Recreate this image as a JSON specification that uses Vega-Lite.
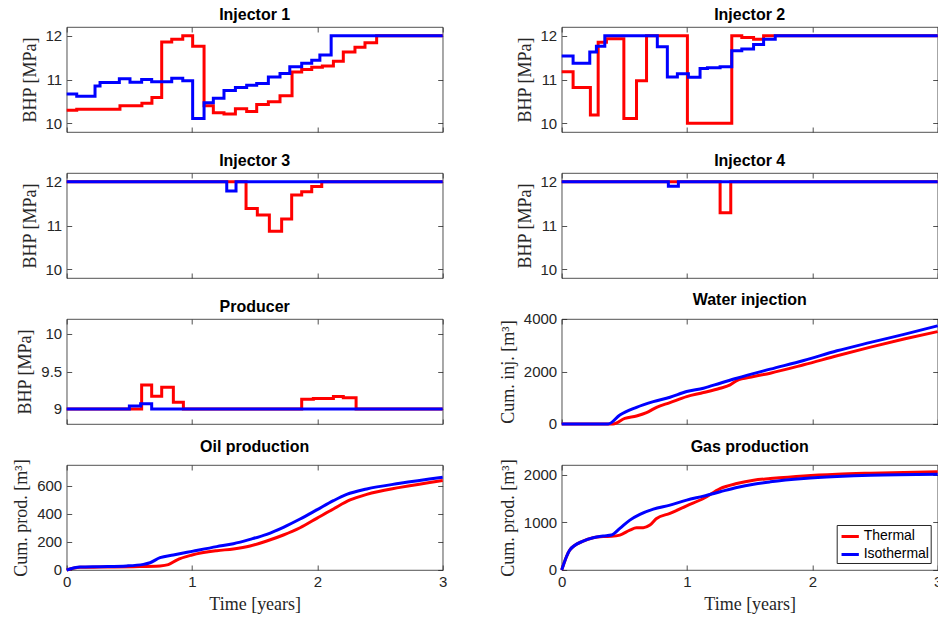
{
"$schema": "https://vega.github.io/schema/vega-lite/v6.json",
"padding": {"left": 11.7, "top": 6, "right": 0, "bottom": 0},
"bounds": "flush",
"columns": 2,
"spacing": {"row": 41, "column": 119},
"resolve": {"scale": {"color": "independent"}, "legend": {"color": "independent"}},
"datasets": {
"d": [
{"p":"inj1","s":"Thermal","t":0,"v":10.30},{"p":"inj1","s":"Thermal","t":0.08,"v":10.32},{"p":"inj1","s":"Thermal","t":0.425,"v":10.40},{"p":"inj1","s":"Thermal","t":0.60,"v":10.46},{"p":"inj1","s":"Thermal","t":0.68,"v":10.59},{"p":"inj1","s":"Thermal","t":0.758,"v":11.86},{"p":"inj1","s":"Thermal","t":0.838,"v":11.92},{"p":"inj1","s":"Thermal","t":0.926,"v":12.0},{"p":"inj1","s":"Thermal","t":1.005,"v":11.76},{"p":"inj1","s":"Thermal","t":1.096,"v":10.40},{"p":"inj1","s":"Thermal","t":1.17,"v":10.24},{"p":"inj1","s":"Thermal","t":1.255,"v":10.21},{"p":"inj1","s":"Thermal","t":1.346,"v":10.33},{"p":"inj1","s":"Thermal","t":1.436,"v":10.27},{"p":"inj1","s":"Thermal","t":1.516,"v":10.43},{"p":"inj1","s":"Thermal","t":1.609,"v":10.49},{"p":"inj1","s":"Thermal","t":1.702,"v":10.63},{"p":"inj1","s":"Thermal","t":1.798,"v":11.17},{"p":"inj1","s":"Thermal","t":1.875,"v":11.23},{"p":"inj1","s":"Thermal","t":1.955,"v":11.28},{"p":"inj1","s":"Thermal","t":2.04,"v":11.31},{"p":"inj1","s":"Thermal","t":2.128,"v":11.42},{"p":"inj1","s":"Thermal","t":2.207,"v":11.63},{"p":"inj1","s":"Thermal","t":2.30,"v":11.74},{"p":"inj1","s":"Thermal","t":2.38,"v":11.84},{"p":"inj1","s":"Thermal","t":2.473,"v":12.0},{"p":"inj1","s":"Thermal","t":3,"v":12.0},
{"p":"inj1","s":"Isothermal","t":0,"v":10.67},{"p":"inj1","s":"Isothermal","t":0.08,"v":10.62},{"p":"inj1","s":"Isothermal","t":0.226,"v":10.85},{"p":"inj1","s":"Isothermal","t":0.266,"v":10.93},{"p":"inj1","s":"Isothermal","t":0.42,"v":11.02},{"p":"inj1","s":"Isothermal","t":0.505,"v":10.94},{"p":"inj1","s":"Isothermal","t":0.598,"v":11.0},{"p":"inj1","s":"Isothermal","t":0.678,"v":10.95},{"p":"inj1","s":"Isothermal","t":0.838,"v":11.03},{"p":"inj1","s":"Isothermal","t":0.926,"v":10.97},{"p":"inj1","s":"Isothermal","t":1.005,"v":10.11},{"p":"inj1","s":"Isothermal","t":1.096,"v":10.47},{"p":"inj1","s":"Isothermal","t":1.17,"v":10.57},{"p":"inj1","s":"Isothermal","t":1.255,"v":10.75},{"p":"inj1","s":"Isothermal","t":1.346,"v":10.82},{"p":"inj1","s":"Isothermal","t":1.436,"v":10.87},{"p":"inj1","s":"Isothermal","t":1.516,"v":10.91},{"p":"inj1","s":"Isothermal","t":1.609,"v":11.06},{"p":"inj1","s":"Isothermal","t":1.702,"v":11.14},{"p":"inj1","s":"Isothermal","t":1.78,"v":11.29},{"p":"inj1","s":"Isothermal","t":1.875,"v":11.37},{"p":"inj1","s":"Isothermal","t":1.955,"v":11.44},{"p":"inj1","s":"Isothermal","t":2.02,"v":11.56},{"p":"inj1","s":"Isothermal","t":2.11,"v":12.0},{"p":"inj1","s":"Isothermal","t":3,"v":12.0},
{"p":"inj2","s":"Thermal","t":0,"v":11.18},{"p":"inj2","s":"Thermal","t":0.091,"v":10.82},{"p":"inj2","s":"Thermal","t":0.229,"v":10.19},{"p":"inj2","s":"Thermal","t":0.291,"v":11.85},{"p":"inj2","s":"Thermal","t":0.357,"v":11.93},{"p":"inj2","s":"Thermal","t":0.496,"v":10.11},{"p":"inj2","s":"Thermal","t":0.597,"v":10.97},{"p":"inj2","s":"Thermal","t":0.677,"v":12.0},{"p":"inj2","s":"Thermal","t":1.003,"v":10.0},{"p":"inj2","s":"Thermal","t":1.357,"v":12.0},{"p":"inj2","s":"Thermal","t":1.437,"v":11.96},{"p":"inj2","s":"Thermal","t":1.531,"v":11.92},{"p":"inj2","s":"Thermal","t":1.611,"v":12.0},{"p":"inj2","s":"Thermal","t":3,"v":12.0},
{"p":"inj2","s":"Isothermal","t":0,"v":11.54},{"p":"inj2","s":"Isothermal","t":0.091,"v":11.37},{"p":"inj2","s":"Isothermal","t":0.224,"v":11.63},{"p":"inj2","s":"Isothermal","t":0.277,"v":11.76},{"p":"inj2","s":"Isothermal","t":0.344,"v":12.0},{"p":"inj2","s":"Isothermal","t":0.763,"v":11.75},{"p":"inj2","s":"Isothermal","t":0.843,"v":11.06},{"p":"inj2","s":"Isothermal","t":0.923,"v":11.13},{"p":"inj2","s":"Isothermal","t":1.011,"v":11.05},{"p":"inj2","s":"Isothermal","t":1.104,"v":11.25},{"p":"inj2","s":"Isothermal","t":1.163,"v":11.27},{"p":"inj2","s":"Isothermal","t":1.264,"v":11.29},{"p":"inj2","s":"Isothermal","t":1.357,"v":11.66},{"p":"inj2","s":"Isothermal","t":1.437,"v":11.70},{"p":"inj2","s":"Isothermal","t":1.531,"v":11.80},{"p":"inj2","s":"Isothermal","t":1.611,"v":11.92},{"p":"inj2","s":"Isothermal","t":1.704,"v":12.0},{"p":"inj2","s":"Isothermal","t":3,"v":12.0},
{"p":"inj3","s":"Thermal","t":0,"v":12.0},{"p":"inj3","s":"Thermal","t":1.431,"v":11.39},{"p":"inj3","s":"Thermal","t":1.521,"v":11.24},{"p":"inj3","s":"Thermal","t":1.617,"v":10.87},{"p":"inj3","s":"Thermal","t":1.715,"v":11.15},{"p":"inj3","s":"Thermal","t":1.795,"v":11.70},{"p":"inj3","s":"Thermal","t":1.875,"v":11.77},{"p":"inj3","s":"Thermal","t":1.955,"v":11.89},{"p":"inj3","s":"Thermal","t":2.035,"v":12.0},{"p":"inj3","s":"Thermal","t":3,"v":12.0},
{"p":"inj3","s":"Isothermal","t":0,"v":12.0},{"p":"inj3","s":"Isothermal","t":1.277,"v":11.79},{"p":"inj3","s":"Isothermal","t":1.351,"v":12.0},{"p":"inj3","s":"Isothermal","t":3,"v":12.0},
{"p":"inj4","s":"Thermal","t":0,"v":12.0},{"p":"inj4","s":"Thermal","t":1.264,"v":11.29},{"p":"inj4","s":"Thermal","t":1.349,"v":12.0},{"p":"inj4","s":"Thermal","t":3,"v":12.0},
{"p":"inj4","s":"Isothermal","t":0,"v":12.0},{"p":"inj4","s":"Isothermal","t":0.851,"v":11.90},{"p":"inj4","s":"Isothermal","t":0.931,"v":12.0},{"p":"inj4","s":"Isothermal","t":3,"v":12.0},
{"p":"prod","s":"Thermal","t":0,"v":9.0},{"p":"prod","s":"Thermal","t":0.598,"v":9.32},{"p":"prod","s":"Thermal","t":0.678,"v":9.17},{"p":"prod","s":"Thermal","t":0.758,"v":9.29},{"p":"prod","s":"Thermal","t":0.851,"v":9.09},{"p":"prod","s":"Thermal","t":0.931,"v":9.0},{"p":"prod","s":"Thermal","t":1.875,"v":9.13},{"p":"prod","s":"Thermal","t":1.968,"v":9.14},{"p":"prod","s":"Thermal","t":2.128,"v":9.165},{"p":"prod","s":"Thermal","t":2.207,"v":9.15},{"p":"prod","s":"Thermal","t":2.309,"v":9.0},{"p":"prod","s":"Thermal","t":3,"v":9.0},
{"p":"prod","s":"Isothermal","t":0,"v":9.0},{"p":"prod","s":"Isothermal","t":0.5,"v":9.04},{"p":"prod","s":"Isothermal","t":0.59,"v":9.07},{"p":"prod","s":"Isothermal","t":0.678,"v":9.0},{"p":"prod","s":"Isothermal","t":3,"v":9.0},
{"p":"water","s":"Thermal","t":0,"v":0},{"p":"water","s":"Thermal","t":0.41,"v":0},{"p":"water","s":"Thermal","t":0.504,"v":217},{"p":"water","s":"Thermal","t":0.597,"v":306},{"p":"water","s":"Thermal","t":0.677,"v":433},{"p":"water","s":"Thermal","t":0.757,"v":637},{"p":"water","s":"Thermal","t":0.864,"v":815},{"p":"water","s":"Thermal","t":0.997,"v":1045},{"p":"water","s":"Thermal","t":1.131,"v":1197},{"p":"water","s":"Thermal","t":1.264,"v":1363},{"p":"water","s":"Thermal","t":1.344,"v":1490},{"p":"water","s":"Thermal","t":1.397,"v":1656},{"p":"water","s":"Thermal","t":1.531,"v":1809},{"p":"water","s":"Thermal","t":1.664,"v":1936},{"p":"water","s":"Thermal","t":1.931,"v":2255},{"p":"water","s":"Thermal","t":2.197,"v":2599},{"p":"water","s":"Thermal","t":2.464,"v":2930},{"p":"water","s":"Thermal","t":2.731,"v":3236},{"p":"water","s":"Thermal","t":3,"v":3520},
{"p":"water","s":"Isothermal","t":0,"v":0},{"p":"water","s":"Isothermal","t":0.371,"v":0},{"p":"water","s":"Isothermal","t":0.464,"v":344},{"p":"water","s":"Isothermal","t":0.597,"v":637},{"p":"water","s":"Isothermal","t":0.731,"v":853},{"p":"water","s":"Isothermal","t":0.864,"v":1019},{"p":"water","s":"Isothermal","t":0.997,"v":1236},{"p":"water","s":"Isothermal","t":1.131,"v":1363},{"p":"water","s":"Isothermal","t":1.264,"v":1554},{"p":"water","s":"Isothermal","t":1.397,"v":1745},{"p":"water","s":"Isothermal","t":1.664,"v":2089},{"p":"water","s":"Isothermal","t":1.931,"v":2420},{"p":"water","s":"Isothermal","t":2.197,"v":2790},{"p":"water","s":"Isothermal","t":2.464,"v":3108},{"p":"water","s":"Isothermal","t":2.731,"v":3414},{"p":"water","s":"Isothermal","t":3,"v":3740},
{"p":"oil","s":"Thermal","t":0,"v":0},{"p":"oil","s":"Thermal","t":0.106,"v":19},{"p":"oil","s":"Thermal","t":0.266,"v":21},{"p":"oil","s":"Thermal","t":0.532,"v":24},{"p":"oil","s":"Thermal","t":0.745,"v":29},{"p":"oil","s":"Thermal","t":0.811,"v":38},{"p":"oil","s":"Thermal","t":0.878,"v":71},{"p":"oil","s":"Thermal","t":1.0,"v":107},{"p":"oil","s":"Thermal","t":1.197,"v":138},{"p":"oil","s":"Thermal","t":1.33,"v":150},{"p":"oil","s":"Thermal","t":1.463,"v":171},{"p":"oil","s":"Thermal","t":1.596,"v":207},{"p":"oil","s":"Thermal","t":1.729,"v":250},{"p":"oil","s":"Thermal","t":1.862,"v":302},{"p":"oil","s":"Thermal","t":1.995,"v":369},{"p":"oil","s":"Thermal","t":2.128,"v":436},{"p":"oil","s":"Thermal","t":2.261,"v":500},{"p":"oil","s":"Thermal","t":2.394,"v":540},{"p":"oil","s":"Thermal","t":2.66,"v":590},{"p":"oil","s":"Thermal","t":3,"v":640},
{"p":"oil","s":"Isothermal","t":0,"v":0},{"p":"oil","s":"Isothermal","t":0.106,"v":21},{"p":"oil","s":"Isothermal","t":0.266,"v":24},{"p":"oil","s":"Isothermal","t":0.479,"v":29},{"p":"oil","s":"Isothermal","t":0.612,"v":40},{"p":"oil","s":"Isothermal","t":0.665,"v":52},{"p":"oil","s":"Isothermal","t":0.745,"v":88},{"p":"oil","s":"Isothermal","t":0.851,"v":107},{"p":"oil","s":"Isothermal","t":1.0,"v":133},{"p":"oil","s":"Isothermal","t":1.197,"v":167},{"p":"oil","s":"Isothermal","t":1.33,"v":188},{"p":"oil","s":"Isothermal","t":1.463,"v":219},{"p":"oil","s":"Isothermal","t":1.596,"v":255},{"p":"oil","s":"Isothermal","t":1.729,"v":305},{"p":"oil","s":"Isothermal","t":1.862,"v":364},{"p":"oil","s":"Isothermal","t":1.995,"v":429},{"p":"oil","s":"Isothermal","t":2.128,"v":495},{"p":"oil","s":"Isothermal","t":2.234,"v":540},{"p":"oil","s":"Isothermal","t":2.394,"v":579},{"p":"oil","s":"Isothermal","t":2.66,"v":619},{"p":"oil","s":"Isothermal","t":3,"v":662},
{"p":"gas","s":"Thermal","t":0,"v":0},{"p":"gas","s":"Thermal","t":0.064,"v":418},{"p":"gas","s":"Thermal","t":0.171,"v":606},{"p":"gas","s":"Thermal","t":0.251,"v":676},{"p":"gas","s":"Thermal","t":0.331,"v":700},{"p":"gas","s":"Thermal","t":0.397,"v":705},{"p":"gas","s":"Thermal","t":0.464,"v":732},{"p":"gas","s":"Thermal","t":0.544,"v":836},{"p":"gas","s":"Thermal","t":0.597,"v":885},{"p":"gas","s":"Thermal","t":0.651,"v":885},{"p":"gas","s":"Thermal","t":0.704,"v":941},{"p":"gas","s":"Thermal","t":0.757,"v":1080},{"p":"gas","s":"Thermal","t":0.864,"v":1185},{"p":"gas","s":"Thermal","t":0.997,"v":1345},{"p":"gas","s":"Thermal","t":1.131,"v":1498},{"p":"gas","s":"Thermal","t":1.264,"v":1707},{"p":"gas","s":"Thermal","t":1.397,"v":1812},{"p":"gas","s":"Thermal","t":1.531,"v":1882},{"p":"gas","s":"Thermal","t":1.664,"v":1916},{"p":"gas","s":"Thermal","t":1.931,"v":1972},{"p":"gas","s":"Thermal","t":2.197,"v":2007},{"p":"gas","s":"Thermal","t":2.464,"v":2028},{"p":"gas","s":"Thermal","t":3,"v":2056},
{"p":"gas","s":"Isothermal","t":0,"v":0},{"p":"gas","s":"Isothermal","t":0.064,"v":418},{"p":"gas","s":"Isothermal","t":0.171,"v":606},{"p":"gas","s":"Isothermal","t":0.251,"v":676},{"p":"gas","s":"Isothermal","t":0.331,"v":711},{"p":"gas","s":"Isothermal","t":0.397,"v":732},{"p":"gas","s":"Isothermal","t":0.464,"v":871},{"p":"gas","s":"Isothermal","t":0.544,"v":1045},{"p":"gas","s":"Isothermal","t":0.624,"v":1164},{"p":"gas","s":"Isothermal","t":0.731,"v":1275},{"p":"gas","s":"Isothermal","t":0.864,"v":1359},{"p":"gas","s":"Isothermal","t":0.997,"v":1463},{"p":"gas","s":"Isothermal","t":1.131,"v":1547},{"p":"gas","s":"Isothermal","t":1.264,"v":1638},{"p":"gas","s":"Isothermal","t":1.397,"v":1728},{"p":"gas","s":"Isothermal","t":1.531,"v":1798},{"p":"gas","s":"Isothermal","t":1.664,"v":1847},{"p":"gas","s":"Isothermal","t":1.931,"v":1916},{"p":"gas","s":"Isothermal","t":2.197,"v":1958},{"p":"gas","s":"Isothermal","t":2.464,"v":1986},{"p":"gas","s":"Isothermal","t":3,"v":2007}
]
},
"data": {"name": "d"},
"concat": [
{"title": "Injector 1", "width": 376, "height": 105,
 "transform": [{"filter": "datum.p === 'inj1'"}],
 "layer": [
  {"transform": [{"filter": "datum.s === 'Thermal'"}], "mark": {"type": "line", "interpolate": "step-after"},
   "encoding": {"x": {"field": "t", "type": "quantitative", "scale": {"domain": [0, 3], "nice": false, "zero": false}, "axis": {"values": [0, 1, 2, 3], "labels": false, "title": null}},
    "y": {"field": "v", "type": "quantitative", "scale": {"domain": [9.8, 12.2], "nice": false, "zero": false}, "axis": {"values": [10, 11, 12], "format": "~g", "title": "BHP [MPa]"}},
    "color": {"field": "s", "type": "nominal", "scale": {"domain": ["Thermal", "Isothermal"], "range": ["#ff0000", "#0000ff"]}, "legend": null}}},
  {"transform": [{"filter": "datum.s === 'Isothermal'"}], "mark": {"type": "line", "interpolate": "step-after"},
   "encoding": {"x": {"field": "t", "type": "quantitative", "scale": {"domain": [0, 3], "nice": false, "zero": false}, "axis": null},
    "y": {"field": "v", "type": "quantitative", "scale": {"domain": [9.8, 12.2], "nice": false, "zero": false}, "axis": null},
    "color": {"field": "s", "type": "nominal", "scale": {"domain": ["Thermal", "Isothermal"], "range": ["#ff0000", "#0000ff"]}, "legend": null}}},
  {"mark": {"type": "line", "strokeOpacity": 0},
   "encoding": {"x": {"field": "t", "type": "quantitative", "scale": {"domain": [0, 3], "nice": false, "zero": false}, "axis": {"orient": "top", "values": [0, 1, 2, 3], "labels": false, "title": null}},
    "y": {"field": "v", "type": "quantitative", "scale": {"domain": [9.8, 12.2], "nice": false, "zero": false}, "axis": {"orient": "right", "values": [10, 11, 12], "labels": false, "title": null}}}}
 ],
 "resolve": {"scale": {"x": "independent", "y": "independent"}, "axis": {"x": "independent", "y": "independent"}}},
{"title": "Injector 2", "width": 376, "height": 105,
 "transform": [{"filter": "datum.p === 'inj2'"}],
 "layer": [
  {"transform": [{"filter": "datum.s === 'Thermal'"}], "mark": {"type": "line", "interpolate": "step-after"},
   "encoding": {"x": {"field": "t", "type": "quantitative", "scale": {"domain": [0, 3], "nice": false, "zero": false}, "axis": {"values": [0, 1, 2, 3], "labels": false, "title": null}},
    "y": {"field": "v", "type": "quantitative", "scale": {"domain": [9.8, 12.2], "nice": false, "zero": false}, "axis": {"values": [10, 11, 12], "format": "~g", "title": "BHP [MPa]"}},
    "color": {"field": "s", "type": "nominal", "scale": {"domain": ["Thermal", "Isothermal"], "range": ["#ff0000", "#0000ff"]}, "legend": null}}},
  {"transform": [{"filter": "datum.s === 'Isothermal'"}], "mark": {"type": "line", "interpolate": "step-after"},
   "encoding": {"x": {"field": "t", "type": "quantitative", "scale": {"domain": [0, 3], "nice": false, "zero": false}, "axis": null},
    "y": {"field": "v", "type": "quantitative", "scale": {"domain": [9.8, 12.2], "nice": false, "zero": false}, "axis": null},
    "color": {"field": "s", "type": "nominal", "scale": {"domain": ["Thermal", "Isothermal"], "range": ["#ff0000", "#0000ff"]}, "legend": null}}},
  {"mark": {"type": "line", "strokeOpacity": 0},
   "encoding": {"x": {"field": "t", "type": "quantitative", "scale": {"domain": [0, 3], "nice": false, "zero": false}, "axis": {"orient": "top", "values": [0, 1, 2, 3], "labels": false, "title": null}},
    "y": {"field": "v", "type": "quantitative", "scale": {"domain": [9.8, 12.2], "nice": false, "zero": false}, "axis": {"orient": "right", "values": [10, 11, 12], "labels": false, "title": null}}}}
 ],
 "resolve": {"scale": {"x": "independent", "y": "independent"}, "axis": {"x": "independent", "y": "independent"}}},
{"title": "Injector 3", "width": 376, "height": 105,
 "transform": [{"filter": "datum.p === 'inj3'"}],
 "layer": [
  {"transform": [{"filter": "datum.s === 'Thermal'"}], "mark": {"type": "line", "interpolate": "step-after"},
   "encoding": {"x": {"field": "t", "type": "quantitative", "scale": {"domain": [0, 3], "nice": false, "zero": false}, "axis": {"values": [0, 1, 2, 3], "labels": false, "title": null}},
    "y": {"field": "v", "type": "quantitative", "scale": {"domain": [9.8, 12.2], "nice": false, "zero": false}, "axis": {"values": [10, 11, 12], "format": "~g", "title": "BHP [MPa]"}},
    "color": {"field": "s", "type": "nominal", "scale": {"domain": ["Thermal", "Isothermal"], "range": ["#ff0000", "#0000ff"]}, "legend": null}}},
  {"transform": [{"filter": "datum.s === 'Isothermal'"}], "mark": {"type": "line", "interpolate": "step-after"},
   "encoding": {"x": {"field": "t", "type": "quantitative", "scale": {"domain": [0, 3], "nice": false, "zero": false}, "axis": null},
    "y": {"field": "v", "type": "quantitative", "scale": {"domain": [9.8, 12.2], "nice": false, "zero": false}, "axis": null},
    "color": {"field": "s", "type": "nominal", "scale": {"domain": ["Thermal", "Isothermal"], "range": ["#ff0000", "#0000ff"]}, "legend": null}}},
  {"mark": {"type": "line", "strokeOpacity": 0},
   "encoding": {"x": {"field": "t", "type": "quantitative", "scale": {"domain": [0, 3], "nice": false, "zero": false}, "axis": {"orient": "top", "values": [0, 1, 2, 3], "labels": false, "title": null}},
    "y": {"field": "v", "type": "quantitative", "scale": {"domain": [9.8, 12.2], "nice": false, "zero": false}, "axis": {"orient": "right", "values": [10, 11, 12], "labels": false, "title": null}}}}
 ],
 "resolve": {"scale": {"x": "independent", "y": "independent"}, "axis": {"x": "independent", "y": "independent"}}},
{"title": "Injector 4", "width": 376, "height": 105,
 "transform": [{"filter": "datum.p === 'inj4'"}],
 "layer": [
  {"transform": [{"filter": "datum.s === 'Thermal'"}], "mark": {"type": "line", "interpolate": "step-after"},
   "encoding": {"x": {"field": "t", "type": "quantitative", "scale": {"domain": [0, 3], "nice": false, "zero": false}, "axis": {"values": [0, 1, 2, 3], "labels": false, "title": null}},
    "y": {"field": "v", "type": "quantitative", "scale": {"domain": [9.8, 12.2], "nice": false, "zero": false}, "axis": {"values": [10, 11, 12], "format": "~g", "title": "BHP [MPa]"}},
    "color": {"field": "s", "type": "nominal", "scale": {"domain": ["Thermal", "Isothermal"], "range": ["#ff0000", "#0000ff"]}, "legend": null}}},
  {"transform": [{"filter": "datum.s === 'Isothermal'"}], "mark": {"type": "line", "interpolate": "step-after"},
   "encoding": {"x": {"field": "t", "type": "quantitative", "scale": {"domain": [0, 3], "nice": false, "zero": false}, "axis": null},
    "y": {"field": "v", "type": "quantitative", "scale": {"domain": [9.8, 12.2], "nice": false, "zero": false}, "axis": null},
    "color": {"field": "s", "type": "nominal", "scale": {"domain": ["Thermal", "Isothermal"], "range": ["#ff0000", "#0000ff"]}, "legend": null}}},
  {"mark": {"type": "line", "strokeOpacity": 0},
   "encoding": {"x": {"field": "t", "type": "quantitative", "scale": {"domain": [0, 3], "nice": false, "zero": false}, "axis": {"orient": "top", "values": [0, 1, 2, 3], "labels": false, "title": null}},
    "y": {"field": "v", "type": "quantitative", "scale": {"domain": [9.8, 12.2], "nice": false, "zero": false}, "axis": {"orient": "right", "values": [10, 11, 12], "labels": false, "title": null}}}}
 ],
 "resolve": {"scale": {"x": "independent", "y": "independent"}, "axis": {"x": "independent", "y": "independent"}}},
{"title": "Producer", "width": 376, "height": 105,
 "transform": [{"filter": "datum.p === 'prod'"}],
 "layer": [
  {"transform": [{"filter": "datum.s === 'Thermal'"}], "mark": {"type": "line", "interpolate": "step-after"},
   "encoding": {"x": {"field": "t", "type": "quantitative", "scale": {"domain": [0, 3], "nice": false, "zero": false}, "axis": {"values": [0, 1, 2, 3], "labels": false, "title": null}},
    "y": {"field": "v", "type": "quantitative", "scale": {"domain": [8.8, 10.2], "nice": false, "zero": false}, "axis": {"values": [9, 9.5, 10], "format": "~g", "title": "BHP [MPa]"}},
    "color": {"field": "s", "type": "nominal", "scale": {"domain": ["Thermal", "Isothermal"], "range": ["#ff0000", "#0000ff"]}, "legend": null}}},
  {"transform": [{"filter": "datum.s === 'Isothermal'"}], "mark": {"type": "line", "interpolate": "step-after"},
   "encoding": {"x": {"field": "t", "type": "quantitative", "scale": {"domain": [0, 3], "nice": false, "zero": false}, "axis": null},
    "y": {"field": "v", "type": "quantitative", "scale": {"domain": [8.8, 10.2], "nice": false, "zero": false}, "axis": null},
    "color": {"field": "s", "type": "nominal", "scale": {"domain": ["Thermal", "Isothermal"], "range": ["#ff0000", "#0000ff"]}, "legend": null}}},
  {"mark": {"type": "line", "strokeOpacity": 0},
   "encoding": {"x": {"field": "t", "type": "quantitative", "scale": {"domain": [0, 3], "nice": false, "zero": false}, "axis": {"orient": "top", "values": [0, 1, 2, 3], "labels": false, "title": null}},
    "y": {"field": "v", "type": "quantitative", "scale": {"domain": [8.8, 10.2], "nice": false, "zero": false}, "axis": {"orient": "right", "values": [9, 9.5, 10], "labels": false, "title": null}}}}
 ],
 "resolve": {"scale": {"x": "independent", "y": "independent"}, "axis": {"x": "independent", "y": "independent"}}},
{"title": "Water injection", "width": 376, "height": 105,
 "transform": [{"filter": "datum.p === 'water'"}],
 "layer": [
  {"transform": [{"filter": "datum.s === 'Thermal'"}], "mark": {"type": "line", "interpolate": "monotone"},
   "encoding": {"x": {"field": "t", "type": "quantitative", "scale": {"domain": [0, 3], "nice": false, "zero": false}, "axis": {"values": [0, 1, 2, 3], "labels": false, "title": null}},
    "y": {"field": "v", "type": "quantitative", "scale": {"domain": [0, 4000], "nice": false, "zero": false}, "axis": {"values": [0, 2000, 4000], "format": "d", "title": "Cum. inj. [m³]"}},
    "color": {"field": "s", "type": "nominal", "scale": {"domain": ["Thermal", "Isothermal"], "range": ["#ff0000", "#0000ff"]}, "legend": null}}},
  {"transform": [{"filter": "datum.s === 'Isothermal'"}], "mark": {"type": "line", "interpolate": "monotone"},
   "encoding": {"x": {"field": "t", "type": "quantitative", "scale": {"domain": [0, 3], "nice": false, "zero": false}, "axis": null},
    "y": {"field": "v", "type": "quantitative", "scale": {"domain": [0, 4000], "nice": false, "zero": false}, "axis": null},
    "color": {"field": "s", "type": "nominal", "scale": {"domain": ["Thermal", "Isothermal"], "range": ["#ff0000", "#0000ff"]}, "legend": null}}},
  {"mark": {"type": "line", "strokeOpacity": 0},
   "encoding": {"x": {"field": "t", "type": "quantitative", "scale": {"domain": [0, 3], "nice": false, "zero": false}, "axis": {"orient": "top", "values": [0, 1, 2, 3], "labels": false, "title": null}},
    "y": {"field": "v", "type": "quantitative", "scale": {"domain": [0, 4000], "nice": false, "zero": false}, "axis": {"orient": "right", "values": [0, 2000, 4000], "labels": false, "title": null}}}}
 ],
 "resolve": {"scale": {"x": "independent", "y": "independent"}, "axis": {"x": "independent", "y": "independent"}}},
{"title": "Oil production", "width": 376, "height": 105,
 "transform": [{"filter": "datum.p === 'oil'"}],
 "layer": [
  {"transform": [{"filter": "datum.s === 'Thermal'"}], "mark": {"type": "line", "interpolate": "monotone"},
   "encoding": {"x": {"field": "t", "type": "quantitative", "scale": {"domain": [0, 3], "nice": false, "zero": false}, "axis": {"values": [0, 1, 2, 3], "format": "d", "title": "Time [years]"}},
    "y": {"field": "v", "type": "quantitative", "scale": {"domain": [0, 750], "nice": false, "zero": false}, "axis": {"values": [0, 200, 400, 600], "format": "d", "title": "Cum. prod. [m³]"}},
    "color": {"field": "s", "type": "nominal", "scale": {"domain": ["Thermal", "Isothermal"], "range": ["#ff0000", "#0000ff"]}, "legend": null}}},
  {"transform": [{"filter": "datum.s === 'Isothermal'"}], "mark": {"type": "line", "interpolate": "monotone"},
   "encoding": {"x": {"field": "t", "type": "quantitative", "scale": {"domain": [0, 3], "nice": false, "zero": false}, "axis": null},
    "y": {"field": "v", "type": "quantitative", "scale": {"domain": [0, 750], "nice": false, "zero": false}, "axis": null},
    "color": {"field": "s", "type": "nominal", "scale": {"domain": ["Thermal", "Isothermal"], "range": ["#ff0000", "#0000ff"]}, "legend": null}}},
  {"mark": {"type": "line", "strokeOpacity": 0},
   "encoding": {"x": {"field": "t", "type": "quantitative", "scale": {"domain": [0, 3], "nice": false, "zero": false}, "axis": {"orient": "top", "values": [0, 1, 2, 3], "labels": false, "title": null}},
    "y": {"field": "v", "type": "quantitative", "scale": {"domain": [0, 750], "nice": false, "zero": false}, "axis": {"orient": "right", "values": [0, 200, 400, 600], "labels": false, "title": null}}}}
 ],
 "resolve": {"scale": {"x": "independent", "y": "independent"}, "axis": {"x": "independent", "y": "independent"}}},
{"title": "Gas production", "width": 376, "height": 105,
 "transform": [{"filter": "datum.p === 'gas'"}],
 "layer": [
  {"transform": [{"filter": "datum.s === 'Thermal'"}], "mark": {"type": "line", "interpolate": "monotone"},
   "encoding": {"x": {"field": "t", "type": "quantitative", "scale": {"domain": [0, 3], "nice": false, "zero": false}, "axis": {"values": [0, 1, 2, 3], "format": "d", "title": "Time [years]"}},
    "y": {"field": "v", "type": "quantitative", "scale": {"domain": [0, 2200], "nice": false, "zero": false}, "axis": {"values": [0, 1000, 2000], "format": "d", "title": "Cum. prod. [m³]"}},
    "color": {"field": "s", "type": "nominal", "scale": {"domain": ["Thermal", "Isothermal"], "range": ["#ff0000", "#0000ff"]}, "legend": {"orient": "bottom-right", "offset": 7}}}},
  {"transform": [{"filter": "datum.s === 'Isothermal'"}], "mark": {"type": "line", "interpolate": "monotone"},
   "encoding": {"x": {"field": "t", "type": "quantitative", "scale": {"domain": [0, 3], "nice": false, "zero": false}, "axis": null},
    "y": {"field": "v", "type": "quantitative", "scale": {"domain": [0, 2200], "nice": false, "zero": false}, "axis": null},
    "color": {"field": "s", "type": "nominal", "scale": {"domain": ["Thermal", "Isothermal"], "range": ["#ff0000", "#0000ff"]}, "legend": {"orient": "bottom-right", "offset": 7}}}},
  {"mark": {"type": "line", "strokeOpacity": 0},
   "encoding": {"x": {"field": "t", "type": "quantitative", "scale": {"domain": [0, 3], "nice": false, "zero": false}, "axis": {"orient": "top", "values": [0, 1, 2, 3], "labels": false, "title": null}},
    "y": {"field": "v", "type": "quantitative", "scale": {"domain": [0, 2200], "nice": false, "zero": false}, "axis": {"orient": "right", "values": [0, 1000, 2000], "labels": false, "title": null}}}}
 ],
 "resolve": {"scale": {"x": "independent", "y": "independent"}, "axis": {"x": "independent", "y": "independent"}}}
],
"config": {
 "view": {"stroke": "#262626", "strokeWidth": 0.8},
 "line": {"strokeWidth": 3},
 "axis": {"grid": false, "domain": false, "tickSize": -5, "tickColor": "#262626", "tickWidth": 0.8, "labelFont": "Liberation Sans", "labelFontSize": 15, "labelColor": "#262626", "labelPadding": 10, "labelFlush": false, "labelOverlap": false, "titleFont": "Liberation Serif", "titleFontSize": 18, "titleFontWeight": "normal", "titleColor": "#262626", "titlePadding": 6},
 "title": {"font": "Liberation Sans", "fontSize": 16, "fontWeight": "bold", "color": "#000000", "offset": 4, "anchor": "middle"},
 "legend": {"title": null, "symbolType": "stroke", "symbolStrokeWidth": 3, "symbolSize": 300, "symbolOffset": 2, "labelFont": "Liberation Sans", "labelFontSize": 14, "labelColor": "#000000", "strokeColor": "#262626", "fillColor": "#ffffff", "padding": 1, "rowPadding": 0, "labelOffset": 3, "labelExpr": "datum.label + '\u00a0\u00a0\u00a0\u00a0'"}
}
}
